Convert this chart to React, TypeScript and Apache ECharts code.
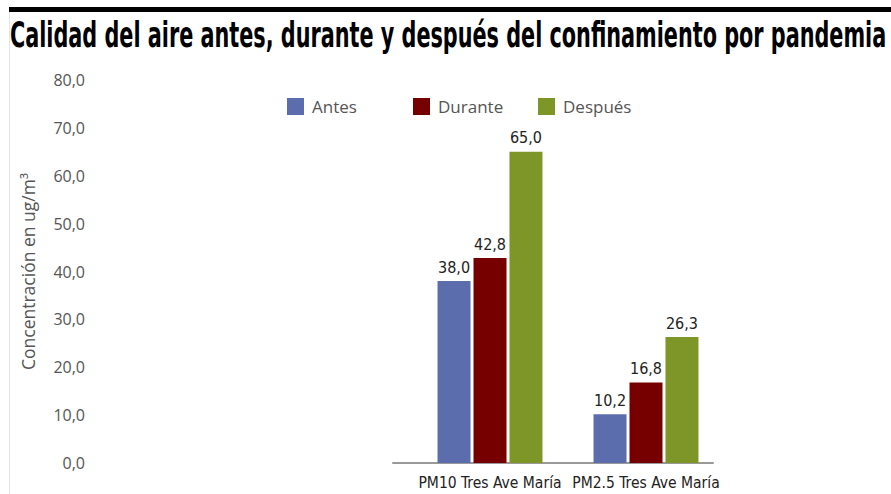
import React, { useEffect, useRef } from "react";
import * as echarts from "echarts";

const titleText = "Calidad del aire antes, durante y después del confinamiento por pandemia";
const categories = ["PM10 Tres Ave María", "PM2.5 Tres Ave María"];
const seriesNames = ["Antes", "Durante", "Después"];
const antes = [38.0, 10.2];
const durante = [42.8, 16.8];
const despues = [65.0, 26.3];
const colors = ["#5b6dad", "#760000", "#7e9628"];
const yMin = 0;
const yMax = 80;
const yInterval = 10;
const yName = "Concentración en ug/m³";

const fmt = (v: number) => v.toFixed(1).replace(".", ",");

const NARROW = "'DejaVu Sans Condensed', 'Liberation Sans Narrow', 'DejaVu Sans', sans-serif";
const TITLE_FONT = "bold 35px 'DejaVu Sans Condensed', 'Liberation Sans Narrow', 'DejaVu Sans', sans-serif";
const legendLefts = [282, 408, 533];

function measure(text: string, font: string): number {
  const c = document.createElement("canvas");
  const ctx = c.getContext("2d");
  if (!ctx) return text.length * 15;
  ctx.font = font;
  return ctx.measureText(text).width;
}

export default function App() {
  const ref = useRef<HTMLDivElement>(null);
  useEffect(() => {
    if (!ref.current) return;
    const chart = echarts.init(ref.current, undefined, { renderer: "svg" });
    const targetW = 876;
    const w = measure(titleText, TITLE_FONT);
    const sx = w > 0 ? targetW / w : 1;
    const series = [antes, durante, despues].map((d, i) => ({
      name: seriesNames[i],
      type: "bar",
      xAxisIndex: 0,
      yAxisIndex: 0,
      data: d,
      barWidth: 33,
      barGap: "9%",
      itemStyle: { color: colors[i] },
      label: {
        show: true,
        position: "top",
        distance: 6,
        formatter: (p: any) => fmt(p.value),
        fontFamily: NARROW,
        fontSize: 16,
        color: "#222",
      },
    }));
    const legends = seriesNames.map((n, i) => ({
      left: legendLefts[i],
      top: 93,
      itemWidth: 17,
      itemHeight: 17,
      icon: "rect",
      textStyle: {
        fontFamily: "'Open Sans'",
        fontSize: 17,
        color: "#555",
        padding: [0, 0, 0, 3],
      },
      data: [n],
    }));
    chart.setOption({
      animation: false,
      backgroundColor: "#fff",
      graphic: [
        { type: "rect", shape: { x: 9, y: 7, width: 882, height: 5 }, style: { fill: "#000" }, silent: true },
        { type: "line", shape: { x1: 9.5, y1: 12, x2: 9.5, y2: 494 }, style: { stroke: "#e4e4e4", lineWidth: 1 }, silent: true },
        {
          type: "text",
          x: 10,
          y: 35,
          scaleX: sx,
          style: {
            text: titleText,
            font: TITLE_FONT,
            fill: "#000",
            verticalAlign: "middle",
            align: "left",
          },
          silent: true,
        },
      ],
      legend: legends,
      grid: [
        { left: 412, right: 167, top: 80, bottom: 31 },
        { left: 393, right: 178, top: 80, bottom: 31 },
      ],
      xAxis: [
        {
          type: "category",
          gridIndex: 0,
          data: categories,
          axisLine: { show: false },
          axisTick: { show: false },
          axisLabel: {
            interval: 0,
            fontFamily: NARROW,
            fontSize: 15.5,
            color: "#222",
            margin: 12,
          },
        },
        {
          type: "value",
          gridIndex: 1,
          min: 0,
          max: 1,
          axisLine: { show: true, lineStyle: { color: "#9a9a9a", width: 2 } },
          axisTick: { show: false },
          axisLabel: { show: false },
          splitLine: { show: false },
        },
      ],
      yAxis: [
        {
          type: "value",
          gridIndex: 0,
          min: yMin,
          max: yMax,
          interval: yInterval,
          name: yName,
          nameLocation: "middle",
          nameGap: 375,
          nameTextStyle: { fontFamily: "'Open Sans'", fontSize: 17.5, color: "#555" },
          axisLine: { show: false },
          axisTick: { show: false },
          splitLine: { show: false },
          axisLabel: {
            formatter: (v: number) => fmt(v),
            fontFamily: "'Open Sans'",
            fontSize: 16,
            color: "#555",
            margin: 327,
          },
        },
        {
          type: "value",
          gridIndex: 1,
          min: 0,
          max: 1,
          show: false,
        },
      ],
      series,
    });
    return () => chart.dispose();
  }, []);
  return <div ref={ref} style={{ width: 891, height: 494, position: "absolute", left: 0, top: 0 }} />;
}
